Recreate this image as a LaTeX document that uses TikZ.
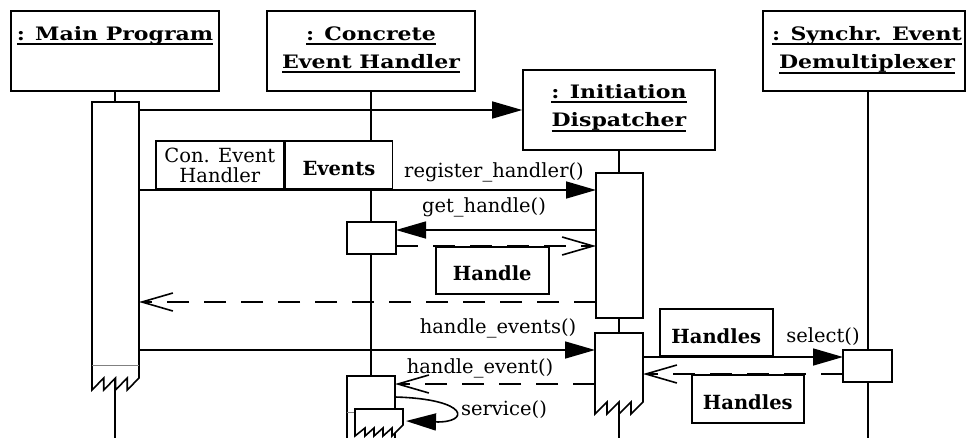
\documentclass[tikz,border=0pt]{standalone}
\usepackage{fontspec}
\setmainfont{DejaVu Serif}
\newfontfamily\titlefont{DejaVu Serif}[FakeStretch=1.19]
\usetikzlibrary{arrows.meta}

% underline with a rule that scales with the heading text
\newcommand\undl[1]{\setbox0\hbox{#1}\rlap{\rule[-4.6pt]{\wd0}{2pt}}\box0}

\tikzset{
  stroke/.style={line width=1.6pt, line join=miter},
  objbox/.style={draw, stroke, fill=white, inner sep=0pt},
  objname/.style={font=\titlefont\fontsize{18.5}{28.5}\selectfont\bfseries, align=center, anchor=north, inner sep=0pt},
  msglabel/.style={font=\fontsize{19.5}{22}\selectfont, anchor=base, inner sep=0pt},
  tagbox/.style={draw, stroke, fill=white, inner sep=0pt, text height=21pt, text depth=0pt,
                 font=\fontsize{19.5}{22}\selectfont\bfseries},
  plaintag/.style={draw, stroke, fill=white, inner sep=0pt, align=center,
                 font=\fontsize{19.5}{20}\selectfont},
  lifeline/.style={stroke},
  actarea/.style={inner sep=0pt, outer sep=0pt},
  actbox/.style={draw, stroke, fill=white, inner sep=0pt, outer sep=0pt},
  call/.style={stroke, -{Triangle[length=30pt,width=17pt]}},
  reply/.style={stroke, dash pattern=on 22pt off 15pt, -{Straight Barb[length=31pt,width=18pt]}},
  endline/.style={draw=gray, line width=0.8pt},
}

\begin{document}
\begin{tikzpicture}[x=1pt,y=-1pt]
\useasboundingbox (0,0) rectangle (966,437);
\clip (0,0) rectangle (966,437);

% message levels
\coordinate (bottom) at (0,445);
\coordinate (lv-reg) at (0,190);
\coordinate (lv-get) at (0,230);
\coordinate (lv-hret) at (0,246);
\coordinate (lv-rret) at (0,302);
\coordinate (lv-hev) at (0,350);
\coordinate (lv-sel) at (0,357);
\coordinate (lv-sret) at (0,374);
\coordinate (lv-he) at (0,384);
\coordinate (lv-svc) at (0,397);
\coordinate (lv-svcend) at (0,421);
\coordinate (lv-mainend) at (0,365);
\coordinate (lv-cehend) at (0,412);

% objects
\node[objbox, minimum width=208pt, minimum height=80pt] (main) at (115,51) {};
\node[objbox, minimum width=208pt, minimum height=80pt] (ceh) at (371,51) {};
\node[objbox, minimum width=192pt, minimum height=80pt] (disp) at (619,110) {};
\node[objbox, minimum width=202pt, minimum height=80pt] (demux) at (864,51) {};

\node[objname] (main-name) at ([yshift=-16pt]main.north) {\undl{: Main Program}};
\node[objname] (ceh-name) at ([yshift=-16pt]ceh.north) {\undl{: Concrete}\\\undl{Event Handler}};
\node[objname] (disp-name) at ([yshift=-15pt]disp.north) {\undl{: Initiation}\\\undl{Dispatcher}};
\node[objname] (demux-name) at ([xshift=3pt,yshift=-16pt]demux.north) {\undl{: Synchr. Event}\\\undl{Demultiplexer}};

% lifelines
\draw[lifeline] (main.south) -- (main.south |- bottom);
\draw[lifeline] (ceh.south) -- (ceh.south |- bottom);
\draw[lifeline] (disp.south) -- (disp.south |- bottom);
\draw[lifeline] (demux.south -| 868,0) -- (868,445);

% activations of the main program
\node[actarea, minimum width=47pt, minimum height=276pt, anchor=north] (mainact) at (115.5,102) {};
\draw[stroke, fill=white] (mainact.north west) -- (mainact.north east) -- (mainact.south east)
  -- ++(-11.75,12) -- ++(0,-12) -- ++(-11.75,12) -- ++(0,-12)
  -- ++(-11.75,12) -- ++(0,-12) -- ++(-11.75,12) -- cycle;
\draw[endline] (mainact.west |- lv-mainend) -- (mainact.east |- lv-mainend);

% activations of the dispatcher
\node[actbox, minimum width=47pt, minimum height=145pt, anchor=north] (dact1) at (619.5,173) {};
\node[actarea, minimum width=48pt, minimum height=69pt, anchor=north] (dact2) at (619,333) {};
\draw[stroke, fill=white] (dact2.north west) -- (dact2.north east) -- (dact2.south east)
  -- ++(-12,12) -- ++(0,-12) -- ++(-12,12) -- ++(0,-12)
  -- ++(-12,12) -- ++(0,-12) -- ++(-12,12) -- cycle;

% activations of the concrete event handler
\node[actbox, minimum width=49pt, minimum height=32pt, anchor=north] (cact1) at (371.5,222) {};
\node[actarea, minimum width=48pt, minimum height=70pt, anchor=north] (cact2) at (371,376) {};
\draw[stroke, fill=white] (cact2.south west) -- (cact2.north west) -- (cact2.north east) -- (cact2.south east);
\draw[endline] (cact2.west |- lv-cehend) -- (cact2.east |- lv-cehend);
\node[actarea, minimum width=48pt, minimum height=16pt, anchor=north west] (cact3) at (355,409) {};
\draw[stroke, fill=white] (cact3.north west) -- (cact3.north east) -- (cact3.south east)
  -- ++(-11,11) -- ++(0,-8) -- ++(-9,8) -- ++(0,-8) -- ++(-9,8) -- ++(0,-8)
  -- ++(-9,8) -- ++(0,-8) -- ++(-10,8) -- cycle;

% activation of the demultiplexer
\node[actbox, minimum width=49pt, minimum height=32pt] (dmact) at (867.5,366) {};

% messages
\draw[call] (mainact.east |- disp.west) -- (disp.west);
\draw[call] (mainact.east |- lv-reg) -- (dact1.west |- lv-reg);
\draw[call] (dact1.west |- lv-get) -- (cact1.east |- lv-get);
\draw[reply] (cact1.east |- lv-hret) -- (dact1.west |- lv-hret);
\draw[reply] (dact1.west |- lv-rret) -- (mainact.east |- lv-rret);
\draw[call] (mainact.east |- lv-hev) -- (dact2.west |- lv-hev);
\draw[call] (dact2.east |- lv-sel) -- (dmact.west |- lv-sel);
\draw[reply] (dmact.west |- lv-sret) -- (dact2.east |- lv-sret);
\draw[reply] (dact2.west |- lv-he) -- (cact2.east |- lv-he);
\draw[call] (cact2.east |- lv-svc) .. controls (470,399) and (470,423) .. ([xshift=3pt]cact3.east |- lv-svcend);

% parameter boxes
\node[plaintag, minimum width=128pt, minimum height=48pt, anchor=south west] (cehtag) at (155,190) {Con. Event\\Handler};
\node[tagbox, minimum width=107pt, minimum height=48pt, anchor=south west] (evtag) at (cehtag.south east) {Events};
\node[tagbox, minimum width=113pt, minimum height=47pt, anchor=north west] (htag) at (435,246) {Handle};
\node[tagbox, minimum width=113pt, minimum height=47pt, anchor=south west] (hstag1) at (659,357) {Handles};
\node[tagbox, minimum width=112pt, minimum height=48pt, anchor=north west] (hstag2) at (691,374) {Handles};

% message labels
\node[msglabel] (l-reg) at (494,177) {register\_handler()};
\node[msglabel] (l-get) at (484,212) {get\_handle()};
\node[msglabel] (l-hev) at (498,333) {handle\_events()};
\node[msglabel] (l-he) at (480,373) {handle\_event()};
\node[msglabel] (l-svc) at (504,415) {service()};
\node[msglabel] (l-sel) at (823,342) {select()};
\end{tikzpicture}
\end{document}
